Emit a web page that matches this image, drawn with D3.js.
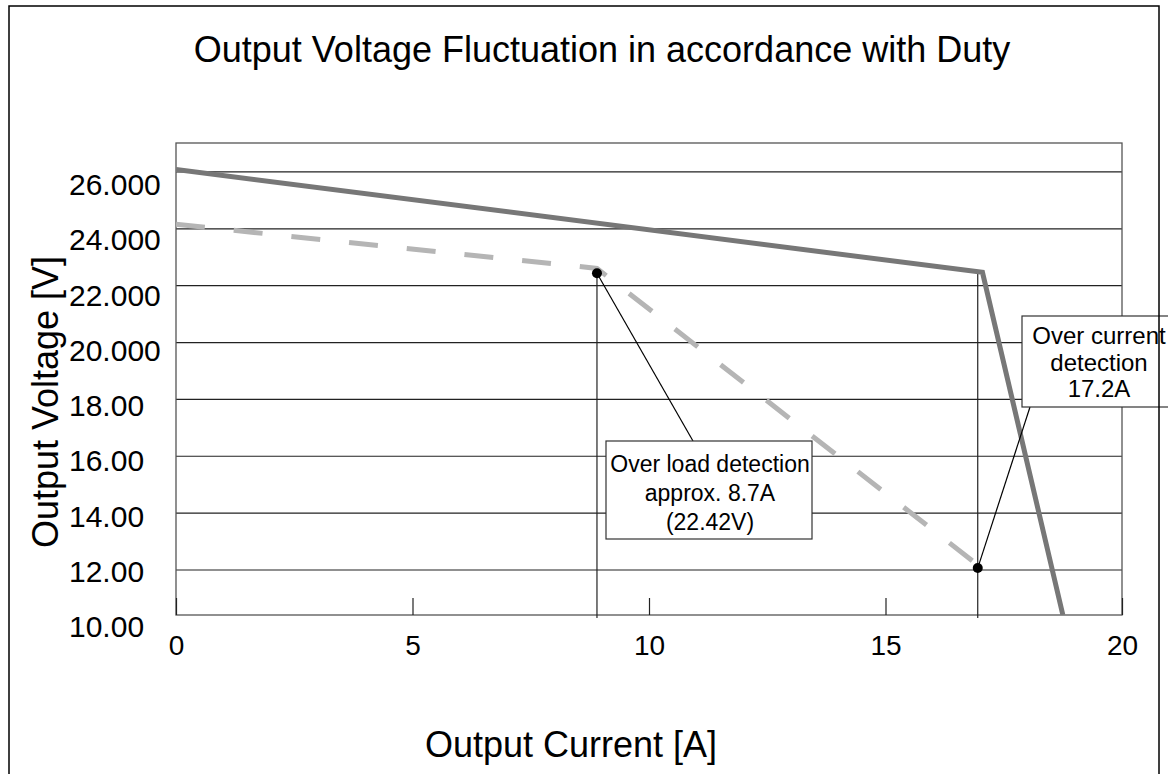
<!DOCTYPE html>
<html>
<head>
<meta charset="utf-8">
<script src="https://cdn.jsdelivr.net/npm/d3@7"></script>
<style>
  body { margin: 0; background: #fff; }
  svg { display: block; font-family: "Liberation Sans", Arial, sans-serif; }
</style>
</head>
<body>
<div id="chart"></div>
<script>
// data
const solidX = [0, 17.05, 18.75];
const solidY = [26.07, 22.45, 10.4];
const dashX = [0, 8.9, 16.95];
const dashY = [24.14, 22.59, 12.16];
const markerX = [8.9, 16.95];
const markerY = [22.42, 12.05];
const xTicks = [0, 5, 10, 15, 20];
const yTicks = [26, 24, 22, 20, 18, 16, 14, 12, 10];
const yTickLabels = ['26.000', '24.000', '22.000', '20.000', '18.00', '16.00', '14.00', '12.00', '10.00'];
const noteLoad = ['Over load detection', 'approx. 8.7A', '(22.42V)'];
const noteCurrent = ['Over current', 'detection', '17.2A'];

const W = 1168, H = 774;
const plot = {left: 176, right: 1122, top: 143, bottom: 615};
const font = 'Liberation Sans, Arial, sans-serif';

const svg = d3.select('#chart').append('svg').attr('width', W).attr('height', H);

// scales
let x = d3.scaleLinear().domain([0, 20]).range([plot.left, plot.right]);
let y = d3.scaleLinear().domain([10.4, 27]).range([plot.bottom, plot.top]);
// the labels are spread evenly, a bit off the grid lines
let yLab = d3.scaleLinear().domain([10, 26]).range([627, 185]);

svg.append('defs').append('clipPath').attr('id', 'clip')
  .append('rect').attr('x', plot.left).attr('y', plot.top)
  .attr('width', plot.right - plot.left).attr('height', plot.bottom - plot.top);

// grid lines
svg.append('g')
  .attr('transform', 'translate(' + plot.left + ',0)')
  .call(d3.axisLeft(y).tickValues(yTicks.filter(d => d > 10.4)).tickSize(-(plot.right - plot.left)).tickFormat(''))
  .call(g => g.select('.domain').remove())
  .call(g => g.selectAll('line').attr('stroke', '#222').attr('stroke-width', 1.2));

// plot frame
svg.append('rect')
  .attr('x', plot.left).attr('y', plot.top)
  .attr('width', plot.right - plot.left).attr('height', plot.bottom - plot.top)
  .attr('fill', 'none').attr('stroke', '#555').attr('stroke-width', 1.3);

// y tick labels
svg.append('g')
  .attr('transform', 'translate(69,0)')
  .call(d3.axisLeft(yLab).tickValues(yTicks).tickSize(0).tickPadding(0)
    .tickFormat((d, i) => yTickLabels[i]))
  .call(g => g.select('.domain').remove())
  .call(g => g.selectAll('text').attr('text-anchor', 'start').attr('x', 0)
    .attr('font-size', 30).attr('fill', '#000').attr('font-family', font));

// x axis
svg.append('g')
  .attr('transform', 'translate(0,' + plot.bottom + ')')
  .call(d3.axisBottom(x).tickValues(xTicks).tickSizeInner(-17).tickSizeOuter(0).tickPadding(20))
  .call(g => g.select('.domain').remove())
  .call(g => g.selectAll('line').attr('stroke', '#222').attr('stroke-width', 1.2))
  .call(g => g.selectAll('text').attr('font-size', 28).attr('fill', '#000').attr('font-family', font));

// drop lines from the detection points
svg.append('line')
  .attr('x1', x(markerX[0])).attr('x2', x(markerX[0]))
  .attr('y1', y(markerY[0])).attr('y2', plot.bottom + 3)
  .attr('stroke', '#222').attr('stroke-width', 1.2);
svg.append('line')
  .attr('x1', x(markerX[1])).attr('x2', x(markerX[1]))
  .attr('y1', y(solidY[1])).attr('y2', plot.bottom + 3)
  .attr('stroke', '#222').attr('stroke-width', 1.2);

let lineg = d3.line().x(d => x(d[0])).y(d => y(d[1]));

svg.append('path')
  .attr('clip-path', 'url(#clip)')
  .attr('d', lineg(dashX.map((d, i) => [d, dashY[i]])))
  .attr('fill', 'none').attr('stroke', '#b5b5b5').attr('stroke-width', 5)
  .attr('stroke-dasharray', '29 29');

svg.append('path')
  .attr('clip-path', 'url(#clip)')
  .attr('d', lineg(solidX.map((d, i) => [d, solidY[i]])))
  .attr('fill', 'none').attr('stroke', '#777').attr('stroke-width', 5)
  .attr('stroke-linejoin', 'miter');

// callouts
function callout(px, py, box, lines, fs, lh, anchor) {
  svg.append('line')
    .attr('x1', px).attr('y1', py).attr('x2', anchor[0]).attr('y2', anchor[1])
    .attr('stroke', '#000').attr('stroke-width', 1.2);
  svg.append('rect')
    .attr('x', box.x).attr('y', box.y).attr('width', box.w).attr('height', box.h)
    .attr('fill', '#fff').attr('stroke', '#333').attr('stroke-width', 1.2);
  svg.append('text')
    .attr('text-anchor', 'middle').attr('font-size', fs)
    .selectAll('tspan').data(lines).enter().append('tspan')
    .attr('x', box.cx).attr('y', (d, i) => box.ty + i * lh)
    .text(d => d);
}

callout(x(markerX[0]), y(markerY[0]), {x: 606, y: 441, w: 206, h: 98, cx: 710, ty: 472}, noteLoad, 23, 29, [693, 441]);
callout(x(markerX[1]), y(markerY[1]), {x: 1022, y: 316, w: 160, h: 91, cx: 1099, ty: 344}, noteCurrent, 24, 26.5, [1030, 407]);

svg.selectAll('circle').data(markerX).enter().append('circle')
  .attr('cx', d => x(d)).attr('cy', (d, i) => y(markerY[i]))
  .attr('r', 5).attr('fill', '#000');

// titles
svg.append('text').attr('x', 602).attr('y', 62).attr('text-anchor', 'middle')
  .attr('font-size', 36).text('Output Voltage Fluctuation in accordance with Duty');
svg.append('text').attr('x', 571).attr('y', 757).attr('text-anchor', 'middle')
  .attr('font-size', 36).text('Output Current [A]');
svg.append('text').attr('transform', 'translate(58,402) rotate(-90)').attr('text-anchor', 'middle')
  .attr('font-size', 36).text('Output Voltage [V]');

// outer border
svg.append('rect').attr('x', 9).attr('y', 6).attr('width', 1150).attr('height', 800)
  .attr('fill', 'none').attr('stroke', '#000').attr('stroke-width', 1.5);
</script>
</body>
</html>
